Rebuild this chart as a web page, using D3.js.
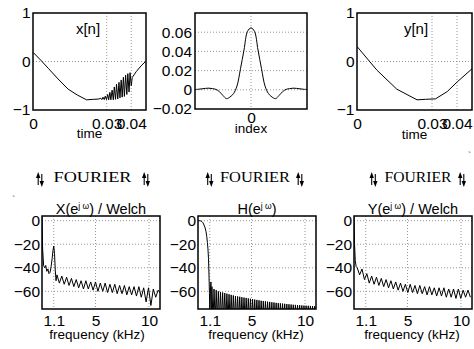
<!DOCTYPE html>
<html>
<head>
<meta charset="utf-8">
<script src="https://cdn.jsdelivr.net/npm/d3@7/dist/d3.min.js"></script>
<style>
  body { margin: 0; background: #fff; }
</style>
</head>
<body>
<div id="chart"></div>
<script>
// ---- time signals (s, amplitude) ----
const xTime = [0, 0.0031, 0.0062, 0.0102, 0.0143, 0.018, 0.0218, 0.0245, 0.0265,
  0.0276, 0.0281, 0.0285, 0.0290, 0.0294, 0.0299, 0.0304, 0.0308, 0.0313, 0.0317,
  0.0322, 0.0327, 0.0331, 0.0336, 0.0340, 0.0345, 0.0350, 0.0354, 0.0359, 0.0363,
  0.0368, 0.0372, 0.0377, 0.0382, 0.0386, 0.0391, 0.0395, 0.0400, 0.0404,
  0.042, 0.044, 0.0458];
const xVal = [0.19, 0.03, -0.14, -0.36, -0.57, -0.69, -0.79, -0.78, -0.775,
  -0.76, -0.785, -0.735, -0.785, -0.715, -0.785, -0.68, -0.79, -0.635, -0.79,
  -0.59, -0.79, -0.525, -0.78, -0.47, -0.77, -0.43, -0.75, -0.38, -0.735,
  -0.325, -0.72, -0.28, -0.68, -0.25, -0.63, -0.23, -0.50, -0.33,
  -0.21, -0.09, 0.0];
const yTime = [0, 0.0079, 0.0159, 0.024, 0.0274, 0.0314, 0.0361, 0.0401, 0.046];
const yVal = [0.31, -0.175, -0.57, -0.79, -0.78, -0.77, -0.62, -0.42, -0.15];

// ---- filter impulse response ----
const hIndex = [-64, -60, -56, -52, -48, -44, -40, -36, -32, -28, -24, -20, -16, -12, -8, -4,
  0, 4, 8, 12, 16, 20, 24, 28, 32, 36, 40, 44, 48, 52, 56, 60, 64];
const hVal = [0.0003, 0.0006, 0.001, 0.0015, 0.0017, 0.0012, 0.0004, -0.002, -0.006, -0.0092, -0.0075, -0.004, 0.004, 0.022, 0.0415, 0.0608,
  0.0645, 0.0608, 0.0415, 0.022, 0.004, -0.004, -0.0075, -0.0092, -0.006, -0.002, 0.0004, 0.0012, 0.0017, 0.0015, 0.001, 0.0006, 0.0003];

// ---- spectra (kHz, dB) ----
const xSpecF = [0, 0.06, 0.15, 0.25, 0.35, 0.45, 0.55, 0.65, 0.75, 0.85, 0.95, 1.03, 1.1, 1.17, 1.24, 1.31, 1.4];
const xSpecDb = [3, -24, -38, -40, -38, -43, -41, -45, -44, -39, -32, -25, -21.5, -28, -42, -51, -46];
const xRippleStart = 1.625, xRippleStep = 0.225;
const xRippleDb = [-53, -47, -54, -48, -55, -49, -56, -50, -57, -51, -58, -51, -58, -52, -59, -52,
  -60, -53, -60, -53, -61, -54, -61, -54, -62, -55, -62, -55, -63, -56, -63, -56, -64, -56,
  -65, -57, -69, -57, -72, -58, -65, -59, -62];

const hSpecF = [0, 0.2, 0.35, 0.47, 0.56, 0.66, 0.75, 0.82, 0.88, 0.93, 0.98, 1.03, 1.07, 1.11, 1.16, 1.21, 1.26];
const hSpecDb = [0, 0, -0.6, -1.8, -3.6, -6, -9.3, -13.5, -18.5, -24, -32, -47, -62, -85, -60, -52, -85];
const hLobeStart = 1.3, hLobeStep = 0.1;
const hLobeDb = [-56, -85, -58, -85, -59, -85, -60, -85, -60.5, -85, -61, -85, -61.5, -85, -62, -85,
  -62.5, -85, -63, -85, -63.5, -85, -64, -85, -64.3, -85, -64.6, -85, -65, -85, -65.3, -85,
  -65.6, -85, -66, -85, -66.3, -85, -66.6, -85, -67, -85, -67.3, -85, -67.6, -85, -68, -85,
  -68.2, -85, -68.5, -85, -68.8, -85, -69, -85, -69.3, -85, -69.5, -85, -69.8, -85, -70, -85,
  -70.2, -85, -70.4, -85, -70.6, -85, -70.8, -85, -71, -85, -71.2, -85, -71.4, -85, -71.5, -85,
  -71.7, -85, -71.8, -85, -72, -85, -72.1, -85, -72.2, -85, -72.3, -85, -72.4, -85, -72.5, -85,
  -72.6, -85];

const ySpecF = [0, 0.05, 0.12, 0.2];
const ySpecDb = [3, -20, -34, -39];
const yRippleStart = 0.3, yRippleStep = 0.225;
const yRippleDb = [-40, -46, -41, -50, -45, -53, -47, -54, -48, -55, -49, -56, -50, -57, -51, -58,
  -52, -59, -53, -60, -54, -61, -54, -61, -55, -62, -55, -62, -56, -63, -56, -63, -57, -64,
  -57, -64, -57, -65, -58, -65, -58, -66, -58, -66, -59, -65, -59, -65];

// ---- ticks ----
const timeTicks = [0, 0.03, 0.04];
const timeTickLabels = ['0', '0.03', '0.04'];
const unitTicks = [-1, 0, 1];
const unitTickLabels = ['\u22121', '0', '1'];
const indexTicks = [0];
const indexTickLabels = ['0'];
const hTicks = [-0.02, 0, 0.02, 0.04, 0.06];
const hTickLabels = ['\u22120.02', '0', '0.02', '0.04', '0.06'];
const freqTicks = [1.1, 5, 10];
const freqTickLabels = ['1.1', '5', '10'];
const dbTicks = [-60, -40, -20, 0];
const dbTickLabels = ['\u221260', '\u221240', '\u221220', '0'];

const SANS = '"Liberation Sans", Arial, Helvetica, sans-serif';
const SERIF = '"Liberation Serif", "Times New Roman", serif';

const W = 474, H = 349;
const svg = d3.select('#chart').append('svg')
    .attr('width', W).attr('height', H)
    .style('background', '#fff');

const zip = (a, b) => a.map((v, i) => [v, b[i]]);
const grid = (start, step, vals) => vals.map((v, i) => [start + i * step, v]);

const panels = [
  { id: 'p1', box: [33, 13, 113, 97], xDom: [0, 0.046], yDom: [-1, 1],
    xTicks: timeTicks, xLabels: timeTickLabels, yTicks: unitTicks, yLabels: unitTickLabels,
    xPad: 7.5, yPad: 2.5, label: 'time', labelY: 138,
    title: 'x[n]', titleX: 88, titleY: 34,
    pts: zip(xTime, xVal), curve: d3.curveLinear },
  { id: 'p2', box: [195, 13, 112, 96], xDom: [-64, 64], yDom: [-0.02, 0.08],
    xTicks: indexTicks, xLabels: indexTickLabels, yTicks: hTicks, yLabels: hTickLabels,
    xPad: 3, yPad: 3, label: 'index', labelY: 133,
    pts: zip(hIndex, hVal), curve: d3.curveCatmullRom },
  { id: 'p3', box: [357, 13, 115, 97], xDom: [0, 0.046], yDom: [-1, 1],
    xTicks: timeTicks, xLabels: timeTickLabels, yTicks: unitTicks, yLabels: unitTickLabels,
    xPad: 7.5, yPad: 2.5, label: 'time', labelY: 139,
    title: 'y[n]', titleX: 416, titleY: 34,
    pts: zip(yTime, yVal), curve: d3.curveLinear },
  { id: 'p4', box: [42, 216, 118, 93], xDom: [0, 11.025], yDom: [-75, 4],
    xTicks: freqTicks, xLabels: freqTickLabels, yTicks: dbTicks, yLabels: dbTickLabels,
    xPad: 5.5, yPad: 2, label: 'frequency (kHz)', labelY: 339, labelDx: -4,
    spec: 'X', specTail: ') / Welch',
    pts: zip(xSpecF, xSpecDb).concat(grid(xRippleStart, xRippleStep, xRippleDb)), curve: d3.curveLinear },
  { id: 'p5', box: [198, 216, 118, 93], xDom: [0, 11.025], yDom: [-75, 4],
    xTicks: freqTicks, xLabels: freqTickLabels, yTicks: dbTicks, yLabels: dbTickLabels,
    xPad: 5.5, yPad: 2, label: 'frequency (kHz)', labelY: 339, labelDx: -1,
    spec: 'H', specTail: ')',
    pts: zip(hSpecF, hSpecDb).concat(grid(hLobeStart, hLobeStep, hLobeDb)), curve: d3.curveLinear },
  { id: 'p6', box: [354, 216, 118, 93], xDom: [0, 11.025], yDom: [-75, 4],
    xTicks: freqTicks, xLabels: freqTickLabels, yTicks: dbTicks, yLabels: dbTickLabels,
    xPad: 5.5, yPad: 2, label: 'frequency (kHz)', labelY: 339, labelDx: -1,
    spec: 'Y', specTail: ') / Welch',
    pts: zip(ySpecF, ySpecDb).concat(grid(yRippleStart, yRippleStep, yRippleDb)), curve: d3.curveLinear }
];

panels.forEach(p => {
  const [bx, by, bw, bh] = p.box;
  const g = svg.append('g').attr('transform', `translate(${bx},${by})`);
  const x = d3.scaleLinear().domain(p.xDom).range([0, bw]);
  const y = d3.scaleLinear().domain(p.yDom).range([bh, 0]);

  g.append('clipPath').attr('id', 'clip-' + p.id)
    .append('rect').attr('width', bw).attr('height', bh);

  // dotted grid
  g.selectAll('line.gx')
    .data(p.xTicks.filter(v => x(v) > 1 && x(v) < bw - 1))
    .join('line').attr('class', 'gx')
    .attr('x1', d => x(d)).attr('x2', d => x(d))
    .attr('y1', 0).attr('y2', bh);
  g.selectAll('line.gy')
    .data(p.yTicks.filter(v => y(v) > 1 && y(v) < bh - 1))
    .join('line').attr('class', 'gy')
    .attr('x1', 0).attr('x2', bw)
    .attr('y1', d => y(d)).attr('y2', d => y(d));
  g.selectAll('line.gx, line.gy')
    .attr('stroke', '#8a8a8a').attr('stroke-width', 0.9)
    .attr('stroke-dasharray', '1,2');

  // data line
  const line = d3.line().x(d => x(d[0])).y(d => y(d[1])).curve(p.curve);
  g.append('path')
    .attr('clip-path', `url(#clip-${p.id})`)
    .attr('d', line(p.pts))
    .attr('fill', 'none').attr('stroke', '#000')
    .attr('stroke-width', 1).attr('stroke-linejoin', 'round');

  // frame
  g.append('rect').attr('width', bw).attr('height', bh)
    .attr('fill', 'none').attr('stroke', '#000').attr('stroke-width', 1.5);

  // axes
  const xa = g.append('g').attr('transform', `translate(0,${bh})`)
    .call(d3.axisBottom(x).tickValues(p.xTicks)
      .tickFormat((d, i) => p.xLabels[i]).tickSize(0).tickPadding(p.xPad));
  const ya = g.append('g')
    .call(d3.axisLeft(y).tickValues(p.yTicks)
      .tickFormat((d, i) => p.yLabels[i]).tickSize(0).tickPadding(p.yPad));
  [xa, ya].forEach(a => {
    a.attr('font-family', SANS).attr('font-size', 15.5);
    a.select('.domain').remove();
    a.selectAll('text').attr('fill', '#000');
  });

  // x label
  svg.append('text')
    .attr('x', bx + bw / 2 + (p.labelDx || 0)).attr('y', p.labelY)
    .attr('text-anchor', 'middle')
    .attr('font-family', SANS).attr('font-size', 13.5)
    .text(p.label);

  // in-panel title
  if (p.title) {
    svg.append('text')
      .attr('x', p.titleX).attr('y', p.titleY)
      .attr('text-anchor', 'middle')
      .attr('font-family', SANS).attr('font-size', 15)
      .text(p.title);
  }

  // spectrum title, e.g. X(e^{j w}) / Welch
  if (p.spec) {
    const t = svg.append('text')
      .attr('x', bx + bw / 2).attr('y', by - 2)
      .attr('text-anchor', 'middle')
      .attr('font-family', SANS).attr('font-size', 14.5);
    t.append('tspan').text(p.spec + '(e');
    t.append('tspan').attr('font-size', 8.5).attr('dy', -5.5).text('j \u03c9');
    t.append('tspan').attr('dy', 5.5).text(p.specTail);
  }
});

// "FOURIER" transform labels with up/down arrows
const fourier = [
  { cx: 92.5, la: 40, ra: 146, len: 78 },
  { cx: 255, la: 209.5, ra: 300, len: 70 },
  { cx: 418, la: 373.5, ra: 462, len: 67 }
];
fourier.forEach(f => {
  svg.append('text')
    .attr('x', f.cx).attr('y', 182)
    .attr('text-anchor', 'middle')
    .attr('font-family', SERIF)
    .attr('font-size', 14)
    .attr('textLength', f.len).attr('lengthAdjust', 'spacingAndGlyphs')
    .text('FOURIER');
  [f.la, f.ra].forEach(ax => {
    const a = svg.append('g').attr('transform', `translate(${ax},0)`);
    // up arrow
    a.append('line').attr('x1', -1.8).attr('x2', -1.8).attr('y1', 176).attr('y2', 185)
      .attr('stroke', '#000').attr('stroke-width', 1.1);
    a.append('path').attr('d', 'M-1.8,172 L-4,178 L0.4,178 Z').attr('fill', '#000');
    // down arrow
    a.append('line').attr('x1', 1.8).attr('x2', 1.8).attr('y1', 174).attr('y2', 184)
      .attr('stroke', '#000').attr('stroke-width', 1.1);
    a.append('path').attr('d', 'M1.8,187 L-0.4,181 L4,181 Z').attr('fill', '#000');
  });
});

// stray marks present in the original figure
svg.append('text').attr('x', 12).attr('y', 204)
  .attr('font-family', SANS).attr('font-size', 10)
  .attr('fill', '#555').text('`');
svg.append('text').attr('x', 468).attr('y', 160)
  .attr('font-family', SANS).attr('font-size', 10)
  .attr('fill', '#555').text('`');
</script>
</body>
</html>
